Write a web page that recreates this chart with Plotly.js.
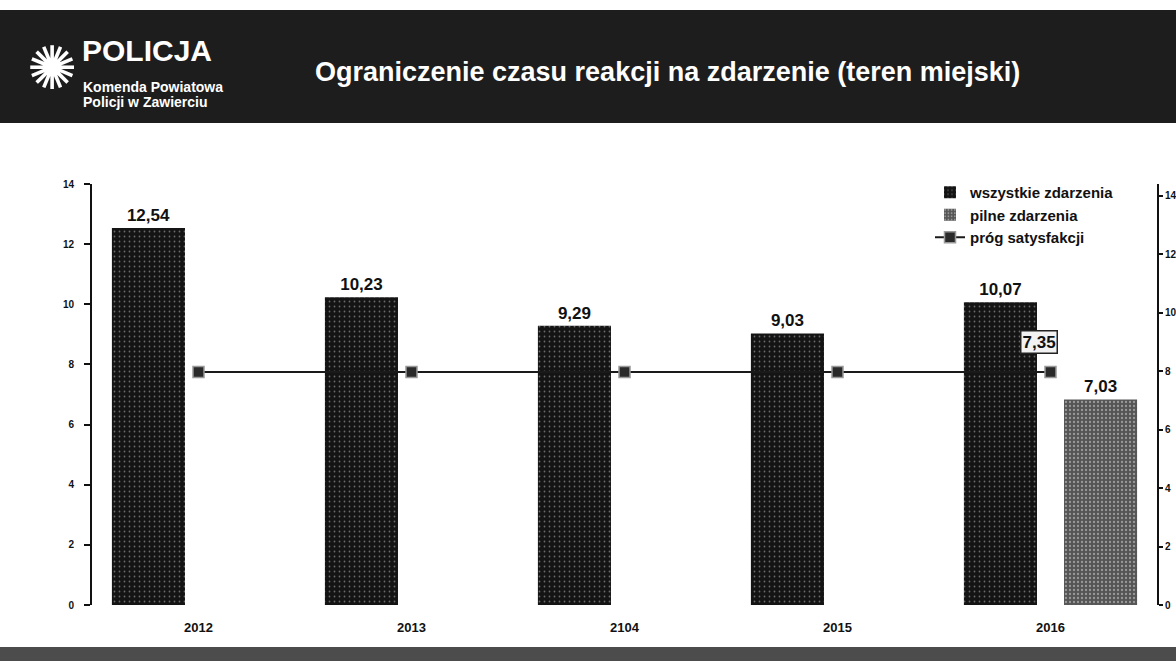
<!DOCTYPE html>
<html>
<head>
<meta charset="utf-8">
<script src="https://cdn.plot.ly/plotly-3.0.1.min.js"></script>
<style>
  html, body { margin: 0; padding: 0; background: #fff; overflow: hidden; }
  #chart { width: 1176px; height: 661px; }
</style>
</head>
<body>
<div id="chart"></div>
<script>
// categories (the "2104" typo is in the original slide)
const years = ['2012', '2013', '2104', '2015', '2016'];
// średni czas reakcji, minuty
const wszystkie = [12.54, 10.23, 9.29, 9.03, 10.07];
const pilne = [null, null, null, null, 7.03];
const prog = [7.35, 7.35, 7.35, 7.35, 7.35];
const leftTicks = [0, 2, 4, 6, 8, 10, 12, 14];

(function () {
  const fontFamily = 'Liberation Sans, Arial, sans-serif';

  // plot area in page pixels, used for the header/footer decoration
  const plotLeft = 92, plotTop = 184, plotWidth = 1065, plotHeight = 421;
  const toPaperX = v => (v - plotLeft) / plotWidth;
  const toPaperY = v => (plotTop + plotHeight - v) / plotHeight;

  const barText = {
    texttemplate: '<b>%{y:.2f}</b>',
    textposition: 'outside',
    constraintext: 'none',
    cliponaxis: false,
    textfont: { family: fontFamily, size: 17, color: '#111' }
  };

  const traces = [
    Object.assign({
      type: 'bar',
      name: 'wszystkie zdarzenia',
      x: years,
      y: wszystkie,
      offsetgroup: 'a',
      marker: {
        color: '#141414',
        pattern: { shape: '.', fgcolor: '#6a6a6a', bgcolor: '#141414', size: 5, solidity: 0.1 }
      }
    }, barText),
    Object.assign({
      type: 'bar',
      name: 'pilne zdarzenia',
      x: years,
      y: pilne,
      yaxis: 'y2',
      offsetgroup: 'b',
      marker: {
        color: '#555',
        pattern: { shape: '.', fgcolor: '#9a9a9a', bgcolor: '#555', size: 4, solidity: 0.25 }
      }
    }, barText),
    {
      type: 'scatter',
      mode: 'lines+markers',
      name: 'próg satysfakcji',
      x: years,
      y: prog,
      yaxis: 'y3',
      line: { color: '#1a1a1a', width: 2 },
      marker: { symbol: 'square', size: 11, color: '#2a2a2a', line: { color: '#999', width: 1.5 } },
      cliponaxis: false
    }
  ];

  const layout = {
    width: 1176,
    height: 661,
    margin: { l: plotLeft, r: 1176 - plotLeft - plotWidth, t: plotTop, b: 661 - plotTop - plotHeight },
    paper_bgcolor: '#fff',
    plot_bgcolor: 'rgba(0,0,0,0)',
    separators: ', ',
    barmode: 'group',
    bargap: 0.06,
    bargroupgap: 0.27,
    font: { family: fontFamily, color: '#111' },
    showlegend: true,
    legend: {
      x: toPaperX(930), y: toPaperY(176), xanchor: 'left', yanchor: 'top',
      bgcolor: 'rgba(0,0,0,0)',
      font: { family: fontFamily, size: 15, weight: 700, color: '#111' },
      itemwidth: 30,
      tracegroupgap: 0
    },
    xaxis: {
      type: 'category',
      range: [-0.5, years.length - 0.5],
      showline: false,
      showgrid: false,
      ticks: '',
      ticklabelstandoff: 13,
      tickfont: { family: fontFamily, size: 13, weight: 700, color: '#111' }
    },
    yaxis: {
      range: [0, 14],
      tickvals: leftTicks,
      showgrid: false,
      zeroline: false,
      showline: true,
      linecolor: '#111',
      linewidth: 2,
      ticks: 'outside',
      ticklen: 6,
      tickwidth: 1.5,
      tickcolor: '#111',
      ticklabelstandoff: 8,
      tickfont: { family: fontFamily, size: 10, weight: 700, color: '#111' }
    },
    yaxis2: {
      overlaying: 'y',
      side: 'right',
      range: [0, 14.4],
      tickvals: leftTicks,
      showgrid: false,
      zeroline: false,
      showline: true,
      linecolor: '#111',
      linewidth: 2,
      ticks: 'outside',
      ticklen: 4,
      tickwidth: 1.5,
      tickcolor: '#111',
      tickfont: { family: fontFamily, size: 10, weight: 700, color: '#111' }
    },
    yaxis3: {
      overlaying: 'y',
      visible: false,
      range: [0, 13.28]
    },
    shapes: [
      { type: 'rect', xref: 'paper', yref: 'paper', x0: toPaperX(0), x1: toPaperX(1176), y0: toPaperY(123), y1: toPaperY(10),
        fillcolor: '#1d1d1d', line: { width: 0 }, layer: 'below' },
      { type: 'rect', xref: 'paper', yref: 'paper', x0: toPaperX(0), x1: toPaperX(1176), y0: toPaperY(661), y1: toPaperY(647),
        fillcolor: '#4c4c4c', line: { width: 0 }, layer: 'below' }
    ],
    annotations: [
      { xref: 'paper', yref: 'paper', x: toPaperX(313), y: toPaperY(72), xanchor: 'left', yanchor: 'middle',
        showarrow: false, text: 'Ograniczenie czasu reakcji na zdarzenie (teren miejski)',
        font: { family: fontFamily, size: 27, weight: 700, color: '#fff' } },
      { xref: 'paper', yref: 'paper', x: toPaperX(80), y: toPaperY(50), xanchor: 'left', yanchor: 'middle',
        showarrow: false, text: 'POLICJA',
        font: { family: fontFamily, size: 30, weight: 700, color: '#fff' } },
      { xref: 'paper', yref: 'paper', x: toPaperX(81), y: toPaperY(87), xanchor: 'left', yanchor: 'middle',
        showarrow: false, text: 'Komenda Powiatowa',
        font: { family: fontFamily, size: 14, weight: 700, color: '#fff' } },
      { xref: 'paper', yref: 'paper', x: toPaperX(81), y: toPaperY(102), xanchor: 'left', yanchor: 'middle',
        showarrow: false, text: 'Policji w Zawierciu',
        font: { family: fontFamily, size: 14, weight: 700, color: '#fff' } },
      { xref: 'paper', yref: 'paper', x: toPaperX(52), y: toPaperY(68), xanchor: 'center', yanchor: 'middle',
        showarrow: false, text: '✺',
        font: { family: 'DejaVu Sans', size: 60, color: '#fff' } },
      // label of the last threshold point; x given as category index
      { x: years.length - 1, y: prog[prog.length - 1], yref: 'y3', xshift: -12, yshift: 30, showarrow: false,
        text: '<b>7,35</b>', bgcolor: '#f2f2f2', bordercolor: '#222', borderwidth: 1.5, borderpad: 1,
        font: { family: fontFamily, size: 17, color: '#111' } }
    ]
  };

  Plotly.newPlot('chart', traces, layout, { displayModeBar: false });
})();
</script>
</body>
</html>
